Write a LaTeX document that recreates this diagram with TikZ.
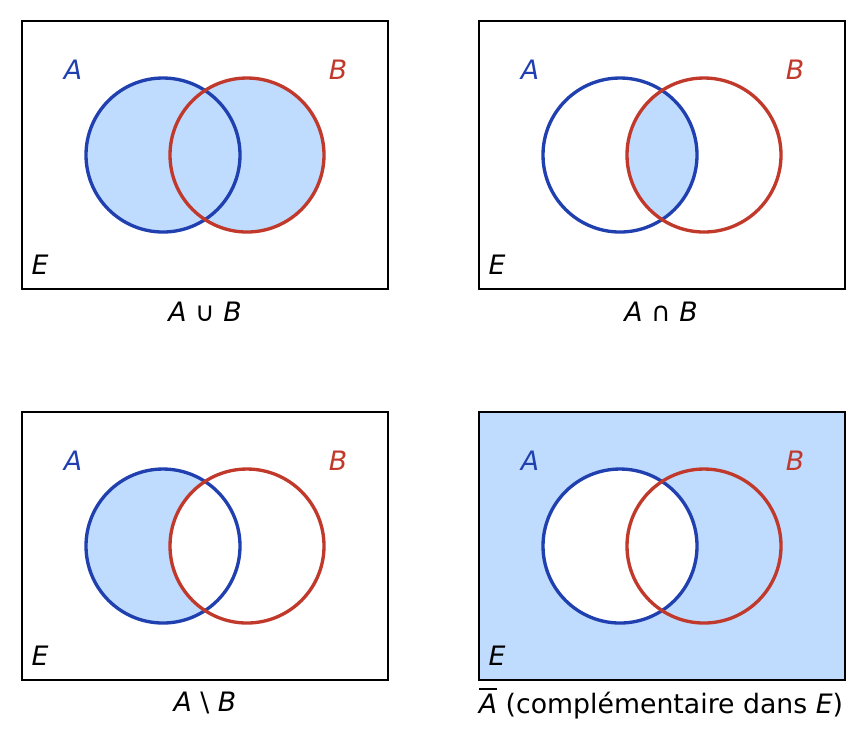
\documentclass[tikz,border=0pt]{standalone}
\usepackage{fontspec}
\setmainfont{DejaVu Sans}
\begin{document}
\begin{tikzpicture}[x=0.01cm,y=-0.01cm,
  box/.style={line width=0.7pt},
  ca/.style={draw=cA,line width=0.95pt},
  cb/.style={draw=cB,line width=0.95pt},
  lab/.style={font=\fontsize{7.6}{9}\selectfont\itshape},
  captxt/.style={font=\fontsize{7.6}{9}\selectfont}]
\definecolor{cA}{HTML}{2040B0}
\definecolor{cB}{HTML}{C0392B}
\definecolor{fl}{HTML}{BFDCFF}
\useasboundingbox (0,0) rectangle (867,744);
% panel 1: union
\fill[fl] (163,155) circle (77) (247,155) circle (77);
% panel 2: intersection
\begin{scope}[shift={(457,0)}]
\begin{scope}\clip (163,155) circle (77); \fill[fl] (247,155) circle (77);\end{scope}
\end{scope}
% panel 3: difference
\begin{scope}[shift={(0,391)}]
\fill[fl] (163,155) circle (77);
\fill[white] (247,155) circle (77);
\end{scope}
% panel 4: complement
\begin{scope}[shift={(457,391)}]
\fill[fl] (22,21) rectangle (388,289);
\fill[white] (163,155) circle (77);
\end{scope}
\foreach \dx/\dy/\n in {0/0/1,457/0/2,0/391/3,457/391/4}{
\begin{scope}[shift={(\dx,\dy)}]
\draw[box] (22,21) rectangle (388,289);
\draw[ca] (163,155) circle (77);
\draw[cb] (247,155) circle (77);
\node[lab,text=cA] (a\n) at (73,70) {A};
\node[lab,text=cB] (b\n) at (338,70) {B};
\node[lab] (e\n) at (40,265) {E};
\end{scope}}
\node[captxt] (c1) at (205,312) {\textit{A} ∪ \textit{B}};
\node[captxt] (c2) at (661,312) {\textit{A} ∩ \textit{B}};
\node[captxt] (c3) at (205,703) {\textit{A} \textbackslash\ \textit{B}};
\node[captxt] (c4) at (661,703) {$\overline{\mbox{\itshape A}}$ (complémentaire dans \textit{E})};
\end{tikzpicture}
\end{document}
